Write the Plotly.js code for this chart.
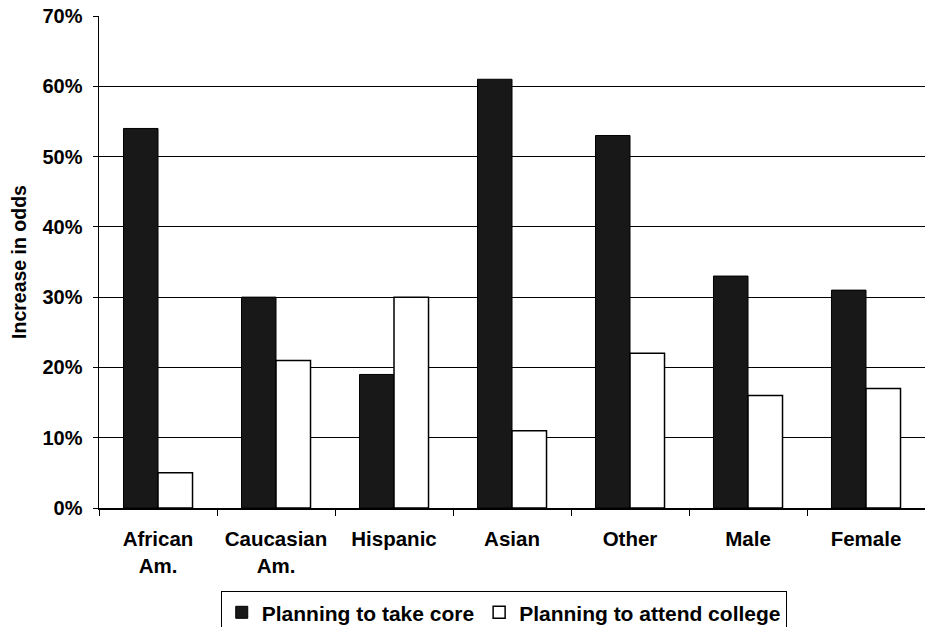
<!DOCTYPE html>
<html>
<head>
<meta charset="utf-8">
<script src="https://cdn.plot.ly/plotly-3.0.1.min.js"></script>
<style>html,body{margin:0;padding:0;background:#fff;}#chart{width:925px;height:627px;}</style>
</head>
<body>
<div id="chart"></div>
<script>
const categories = ["African<br>Am.", "Caucasian<br>Am.", "Hispanic", "Asian", "Other", "Male", "Female"];
const planningCore = [54, 30, 19, 61, 53, 33, 31];
const planningCollege = [5, 21, 30, 11, 22, 16, 17];
const yTickVals = [0, 10, 20, 30, 40, 50, 60, 70];
const yTickText = ["0%", "10%", "20%", "30%", "40%", "50%", "60%", "70%"];

const fontFam = "Liberation Sans, Arial, sans-serif";

const traces = [
  {
    type: "bar", name: "Planning to take core",
    x: categories, y: planningCore,
    marker: {color: "#181818", line: {color: "#000", width: 1}}
  },
  {
    type: "bar", name: "Planning to attend college",
    x: categories, y: planningCollege,
    marker: {color: "#ffffff", line: {color: "#000", width: 1.5}}
  }
];

const layout = {
  width: 925, height: 627,
  margin: {l: 99, r: 0, t: 16, b: 119, autoexpand: false},
  paper_bgcolor: "#fff", plot_bgcolor: "#fff",
  barmode: "group", bargap: 0.415, bargroupgap: 0,
  font: {family: fontFam, color: "#000", size: 20, weight: 700},
  xaxis: {
    type: "category",
    showline: true, linecolor: "#000", linewidth: 1.5,
    ticks: "outside", tickson: "boundaries", ticklen: 6, tickcolor: "#000", tickwidth: 1,
    ticklabelstandoff: 12,
    tickfont: {family: fontFam, size: 20.5, color: "#000", weight: 700},
    showgrid: false, zeroline: false, fixedrange: true
  },
  yaxis: {
    range: [0, 70],
    tickvals: yTickVals, ticktext: yTickText,
    showline: true, linecolor: "#000", linewidth: 1.5,
    ticks: "outside", ticklen: 5, tickcolor: "#000",
    ticklabelstandoff: 6,
    tickfont: {family: fontFam, size: 20, color: "#000", weight: 700},
    showgrid: true, gridcolor: "#000", gridwidth: 1,
    zeroline: false,
    title: {text: "Increase in odds", font: {family: fontFam, size: 19.5, color: "#000", weight: 700}, standoff: 10}
  },
  showlegend: true,
  legend: {
    orientation: "h", x: 0.49, xanchor: "center", y: -0.169, yanchor: "top",
    bordercolor: "#000", borderwidth: 1, bgcolor: "#fff",
    font: {family: fontFam, size: 21, color: "#000", weight: 700},
    itemwidth: 30, traceorder: "normal", tracegroupgap: 0
  }
};

Plotly.newPlot("chart", traces, layout, {displayModeBar: false, staticPlot: true});
</script>
</body>
</html>
